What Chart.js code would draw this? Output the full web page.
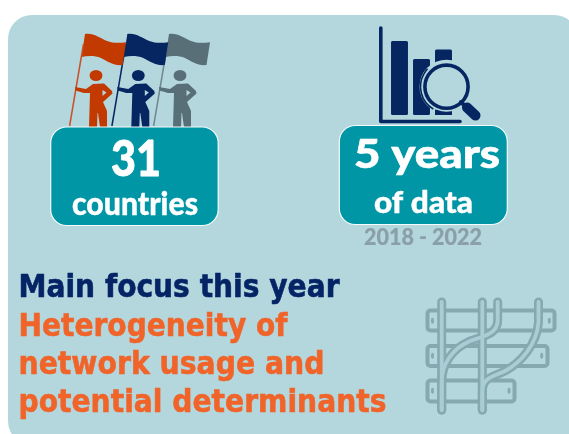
<!DOCTYPE html>
<html><head><meta charset="utf-8">
<style>html,body{margin:0;padding:0;background:#fff}#wrap{position:relative;width:569px;height:434px;overflow:hidden}canvas{display:block}</style>
<script src="https://cdn.jsdelivr.net/npm/chart.js@4"></script>
</head><body><div id="wrap"><canvas id="c" width="569" height="434"></canvas></div>
<script>
const iconBarLabels = ['a','b','c'];
const iconBarValues = [74, 56, 65.5];
const countriesCount = '31';
const countriesLabel = 'countries';
const yearsCount = '5 years';
const yearsLabel = 'of data';
const yearRange = '2018 - 2022';
const headline = 'Main focus this year';
const focusLines = ['Heterogeneity of','network usage and','potential determinants'];

const BG='#B3D7DD', TEAL='#0096A5', NAVY='#052661', RAIL='#86A9B0';
const rr=(c,x,y,w,h,r)=>{c.beginPath();c.roundRect(x,y,w,h,r);};
function text(c,s,x,y,font,color,w,bold){
  c.save();c.font=font;c.fillStyle=color;c.textAlign='left';c.textBaseline='alphabetic';
  const m=c.measureText(s).width;
  c.translate(x,y);c.scale(w/m,1);
  c.fillText(s,0,0);
  if(bold){c.strokeStyle=color;c.lineWidth=bold;c.lineJoin='round';c.strokeText(s,0,0);}
  c.restore();
}
function person(c,dx,col,poleCol){
  c.save();c.translate(dx,0);c.fillStyle=col;
  c.beginPath();c.moveTo(85,34);
  c.bezierCurveTo(93,32.5,100,38,107,41);c.bezierCurveTo(113,43.5,120,43,126,42.2);
  c.lineTo(122.5,65);c.bezierCurveTo(114,66,108,61.5,101,58);c.bezierCurveTo(95,55.5,88,55.5,81.5,57);
  c.closePath();c.fill();
  c.strokeStyle=poleCol;c.lineWidth=1.5;c.beginPath();c.moveTo(83.5,44);c.lineTo(69.6,126);c.stroke();
  c.beginPath();c.ellipse(96,75.5,6.4,5.6,0,0,Math.PI*2);c.fill();
  c.beginPath();c.moveTo(75,87);c.lineTo(86,89);c.lineTo(93,84);c.lineTo(104,83.5);
  c.lineTo(112,91);c.lineTo(112.5,93.5);c.lineTo(103,102);c.lineTo(107,111);c.lineTo(107,127);
  c.lineTo(100,127);c.lineTo(98,113);c.lineTo(97.5,113);c.lineTo(97,127);c.lineTo(89,127);
  c.lineTo(90,93);c.lineTo(84,93);c.lineTo(75.5,90.5);c.closePath();c.fill();
  c.fillStyle=BG;c.beginPath();c.moveTo(102.5,90);c.lineTo(106.5,92.5);c.lineTo(102.5,96);c.closePath();c.fill();
  c.restore();
}
function drawFlags(c){
  person(c,84,'#586F77','#6F8890');
  person(c,42.3,'#052661','#052661');
  person(c,0,'#C23A00','#C8512A');
}
function tealBox(c,x,y,w,h){
  rr(c,x,y,w,h,16);c.fillStyle=TEAL;c.fill();c.lineWidth=1.2;c.strokeStyle='#F4FBFC';c.stroke();
}
function drawRails(c){
  c.save();c.filter='blur(0.5px)';c.strokeStyle=RAIL;c.lineWidth=4;
  [[427.5,310.5,127,20],[427.5,346,120,20],[427.5,380.5,87,21]].forEach(b=>{rr(c,b[0],b[1],b[2],b[3],3);c.stroke();});
  c.fillStyle=RAIL;
  [[432.5,320.7],[432.5,355.7],[432.5,390.7],[549.3,320.7],[541.7,355.7],[509,390.7]].forEach(d=>{
    c.beginPath();c.ellipse(d[0],d[1],1.5,3,0,0,Math.PI*2);c.fill();});
  const rails=[
   p=>{p.moveTo(441.7,302);p.lineTo(441.7,410);},
   p=>{p.moveTo(482.3,302);p.lineTo(482.3,410);},
   p=>{p.moveTo(497.7,302);p.lineTo(497.7,320);p.bezierCurveTo(497.7,334,484,336,470,341);p.bezierCurveTo(452,349,441.7,364,441.7,382);p.lineTo(441.7,410);},
   p=>{p.moveTo(538.5,302);p.lineTo(538.5,322);p.bezierCurveTo(537,345,520,363,505,371);p.bezierCurveTo(493,377,482.3,377,482.3,392);p.lineTo(482.3,410);}
  ];
  c.lineCap='round';
  rails.forEach(f=>{c.beginPath();f(c);c.strokeStyle=RAIL;c.lineWidth=9;c.stroke();});
  rails.forEach(f=>{c.beginPath();f(c);c.strokeStyle='#A8CED4';c.lineWidth=3.8;c.stroke();});
  c.restore();
}
const scene={
  id:'scene',
  beforeDraw(ch){
    const c=ch.ctx;c.save();
    c.fillStyle='#fff';c.fillRect(0,0,569,434);
    rr(c,8,15,570,430,24);c.fillStyle=BG;c.fill();
    drawFlags(c);
    c.strokeStyle=NAVY;c.lineWidth=3.6;c.lineCap='round';c.lineJoin='round';
    c.beginPath();c.moveTo(380.8,28);c.lineTo(380.8,121.5);c.lineTo(460,121.5);c.stroke();
    c.restore();
  },
  afterDraw(ch){
    const c=ch.ctx;c.save();
    const mx=446.5,my=86.7;
    c.fillStyle=BG;c.beginPath();c.arc(mx,my,27,0,Math.PI*2);c.fill();
    c.fillStyle=NAVY;c.fillRect(435,109.5,17,5.5);
    c.fillStyle=BG;c.beginPath();c.arc(mx,my,25,0,Math.PI*2);c.fill();
    c.strokeStyle=NAVY;c.lineWidth=3.6;c.beginPath();c.arc(mx,my,21.6,0,Math.PI*2);c.stroke();
    c.lineCap='round';c.lineWidth=4;c.beginPath();c.moveTo(461,102);c.lineTo(468,109);c.stroke();
    c.lineWidth=10;c.beginPath();c.moveTo(467,107.5);c.lineTo(475.5,115.5);c.stroke();
    c.strokeStyle=NAVY;c.lineWidth=1.6;c.lineCap='butt';c.beginPath();c.arc(mx,my,26,2.1,3.9);c.stroke();
    tealBox(c,50.7,127,167.5,98.5);
    tealBox(c,339.3,125.5,168,99);
    text(c,countriesCount,111,176,'900 50px Lato','#fff',50,0.8);
    text(c,countriesLabel,72,215,'900 33px Lato','#fff',126,0.4);
    text(c,yearsCount,354,168,'900 39px Lato','#fff',146,0.6);
    text(c,yearsLabel,374,213,'900 30px Lato','#fff',99,0.4);
    text(c,yearRange,364,245,'900 22px Lato','#8B9FAA',118,0.2);
    const H='700 31.5px "DejaVu Sans"';
    text(c,headline,18.5,297,H,'#042466',321,0.6);
    text(c,focusLines[0],18.5,335.5,H,'#F0642A',269,0.6);
    text(c,focusLines[1],18.5,373.5,H,'#F0642A',306,0.6);
    text(c,focusLines[2],18.5,411.5,H,'#F0642A',368,0.6);
    drawRails(c);
    c.restore();
  }
};
new Chart(document.getElementById('c'),{
  type:'bar',
  data:{labels:iconBarLabels,datasets:[{data:iconBarValues,backgroundColor:NAVY,borderRadius:1.5,borderSkipped:false,barPercentage:0.77,categoryPercentage:1}]},
  options:{
    responsive:false,animation:false,
    layout:{padding:{left:388.5,right:114.5,top:26,bottom:319}},
    plugins:{legend:{display:false},tooltip:{enabled:false},title:{display:false}},
    scales:{x:{display:false},y:{display:false,min:0,max:89}}
  },
  plugins:[scene]
});
</script></body></html>
